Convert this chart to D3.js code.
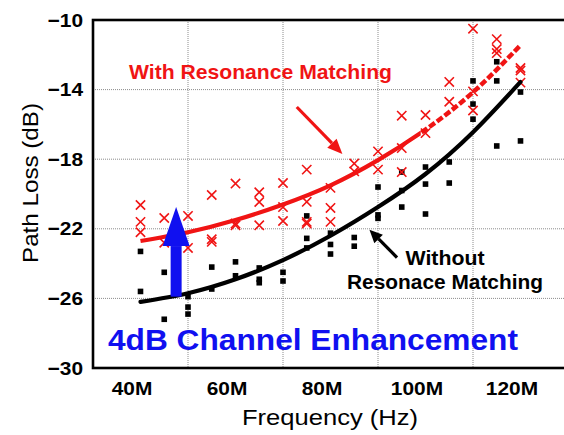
<!DOCTYPE html>
<html>
<head>
<meta charset="utf-8">
<script src="https://cdn.jsdelivr.net/npm/d3@7"></script>
<style>
  body { margin: 0; background: #fff; }
  svg { display: block; font-family: "Liberation Sans", Arial, sans-serif; }
</style>
</head>
<body>
<script>
// measured points, frequency in MHz, loss in dB
var withFreq = [40, 40, 40, 45, 45, 50, 50, 55, 55, 55, 60, 60, 60, 65, 65, 65,
  70, 70, 70, 75, 75, 75, 75, 80, 80, 80, 85, 85, 90, 90, 95, 95, 95,
  100, 100, 105, 105, 110, 110, 110, 115, 115, 115, 120, 120, 120];
var withLoss = [-20.63, -21.6, -22.2, -21.38, -22.8, -21.26, -23.1, -20.06, -22.6, -22.75,
  -19.4, -21.7, -21.8, -19.9, -20.46, -21.8, -19.37, -20.75, -21.55,
  -18.6, -20.45, -21.6, -21.7, -19.65, -20.8, -21.6, -18.25, -18.7, -17.55, -18.6,
  -15.5, -17.36, -18.74, -15.46, -16.5, -13.56, -14.7, -10.5, -14.1, -15.2,
  -11.1, -11.67, -11.9, -12.76, -12.9, -13.6];

var withoutFreq = [40, 40, 45, 45, 50, 50, 50, 55, 55, 60, 60, 65, 65, 65, 70, 70,
  75, 75, 75, 80, 80, 80, 85, 85, 90, 90, 90, 95, 95, 95, 100, 100, 100,
  105, 105, 110, 110, 110, 115, 115, 115, 120, 120];
var withoutLoss = [-23.3, -25.6, -24.5, -27.2, -25.9, -26.5, -26.9, -24.2, -25.46,
  -23.9, -24.7, -24.25, -24.9, -25.1, -24.5, -25.0, -21.26, -22.55, -23.1,
  -22.25, -22.9, -23.45, -22.5, -23.0, -19.6, -21.2, -21.4, -18.74, -19.8, -20.75,
  -18.45, -19.43, -21.15, -18.16, -19.37, -13.5, -14.83, -15.7, -12.4, -13.5, -17.24,
  -14.14, -16.95];

// fitted trend lines
var fitFreq = [40, 50, 60, 70, 80, 90, 100, 110, 120];
var fitWith = [-22.7, -22.2, -21.5, -20.6, -19.5, -18.05, -16.3, -14.15, -11.45];
var fitWithout = [-26.2, -25.7, -24.9, -23.8, -22.4, -20.75, -18.85, -16.45, -13.56];

var xTicks = [40, 60, 80, 100, 120];
var yTicks = [-30, -26, -22, -18, -14, -10];
var xGrid = [50, 70, 90, 110];
var yGrid = [-26, -22, -18, -14];

var width = 564,
  height = 435;

// plot box (window.top is reserved, so prefixed names)
var pLeft = 93, pTop = 20, pRight = 568, pBottom = 368;

var x = d3.scaleLinear().domain([30, 130]).range([pLeft, pRight]);
var y = d3.scaleLinear().domain([-30, -10]).range([pBottom, pTop]);

var svg = d3
  .select("body")
  .append("svg")
  .attr("width", width)
  .attr("height", height);

var defs = svg.append("defs");

// grid
svg.append("g").selectAll("line").data(xGrid).join("line")
  .attr("x1", d => x(d)).attr("x2", d => x(d))
  .attr("y1", pTop).attr("y2", pBottom)
  .attr("stroke", "#8c8c8c").attr("stroke-width", 1)
  .attr("stroke-dasharray", "1,1");
svg.append("g").selectAll("line").data(yGrid).join("line")
  .attr("x1", pLeft).attr("x2", pRight)
  .attr("y1", d => y(d)).attr("y2", d => y(d))
  .attr("stroke", "#8c8c8c").attr("stroke-width", 1)
  .attr("stroke-dasharray", "1,1");

// axes (labels only)
var xAxis = svg.append("g")
  .attr("transform", "translate(0," + pBottom + ")")
  .call(d3.axisBottom(x).tickValues(xTicks).tickSize(0).tickPadding(14)
    .tickFormat(d => d + "M"));
xAxis.select(".domain").remove();
xAxis.selectAll("text").attr("dx", -9);

var yAxis = svg.append("g")
  .attr("transform", "translate(" + pLeft + ",0)")
  .call(d3.axisLeft(y).tickValues(yTicks).tickSize(0).tickPadding(10)
    .tickFormat(d3.format("d")));
yAxis.select(".domain").remove();

svg.selectAll(".tick text")
  .attr("font-family", "'Liberation Sans', Arial, sans-serif")
  .attr("font-size", 19).attr("font-weight", "bold").attr("fill", "#000");

// markers
var pw = d3.zip(withFreq, withLoss);
var pb = d3.zip(withoutFreq, withoutLoss);

svg.append("g").selectAll("rect").data(pb).join("rect")
  .attr("x", d => x(d[0]) - 2.8).attr("y", d => y(d[1]) - 2.8)
  .attr("width", 5.6).attr("height", 5.6).attr("fill", "#000");

var cross = d3.symbol().type(d3.symbolTimes).size(58);
svg.append("g").selectAll("path").data(pw).join("path")
  .attr("transform", d => "translate(" + x(d[0]) + "," + y(d[1]) + ")")
  .attr("d", cross).attr("fill", "none")
  .attr("stroke", "#f01414").attr("stroke-width", 1.6);

// fit curves
var line = d3.line().x(d => x(d[0])).y(d => y(d[1])).curve(d3.curveNatural);

svg.append("path").datum(d3.zip(fitFreq, fitWithout))
  .attr("d", line).attr("fill", "none")
  .attr("stroke", "#000").attr("stroke-width", 4.2).attr("stroke-linecap", "round");

defs.append("clipPath").attr("id", "lo").append("rect")
  .attr("x", 0).attr("y", 0).attr("width", x(99)).attr("height", height);
defs.append("clipPath").attr("id", "hi").append("rect")
  .attr("x", x(99)).attr("y", 0).attr("width", width).attr("height", height);

var redFit = d3.zip(fitFreq, fitWith);
svg.append("path").datum(redFit).attr("clip-path", "url(#lo)")
  .attr("d", line).attr("fill", "none")
  .attr("stroke", "#f01414").attr("stroke-width", 4.2);
svg.append("path").datum(redFit).attr("clip-path", "url(#hi)")
  .attr("d", line).attr("fill", "none")
  .attr("stroke", "#f01414").attr("stroke-width", 4.5)
  .attr("stroke-dasharray", "7,2.5");

// arrows, ends in data units
function arrow(f1, l1, f2, l2, w, headLen, headW, color) {
  var x1 = x(f1), y1 = y(l1), x2 = x(f2), y2 = y(l2);
  var a = Math.atan2(y2 - y1, x2 - x1);
  var c = Math.cos(a), s = Math.sin(a);
  var bx = x2 - c * headLen, by = y2 - s * headLen;
  svg.append("line").attr("x1", x1).attr("y1", y1).attr("x2", bx).attr("y2", by)
    .attr("stroke", color).attr("stroke-width", w);
  svg.append("polygon")
    .attr("points", [[x2, y2], [bx - s * headW / 2, by + c * headW / 2],
      [bx + s * headW / 2, by - c * headW / 2]].map(p => p.join(",")).join(" "))
    .attr("fill", color);
}
arrow(72.9, -15.0, 82.5, -17.7, 3.2, 15, 13, "#f01414");
arrow(94.0, -23.65, 88.2, -22.05, 3.2, 13, 12, "#000");
arrow(47.5, -25.9, 47.5, -20.75, 11, 39, 27, "#1010f0");

// frame
svg.append("rect").attr("x", pLeft).attr("y", pTop)
  .attr("width", pRight - pLeft).attr("height", pBottom - pTop)
  .attr("fill", "none").attr("stroke", "#000").attr("stroke-width", 2.6);

// annotations
function label(t, px, py, size, color, len, anchor) {
  return svg.append("text").attr("x", px).attr("y", py)
    .attr("font-size", size).attr("font-weight", "bold").attr("fill", color)
    .attr("text-anchor", anchor || "start")
    .attr("textLength", len).attr("lengthAdjust", "spacingAndGlyphs")
    .text(t);
}
label("With Resonance Matching", 129, 79, 21, "#f01414", 263);
label("Without", 445, 265, 20.5, "#000", 79, "middle");
label("Resonace Matching", 347, 289, 20.5, "#000", 196);
label("4dB Channel Enhancement", 108, 350, 29, "#1010f0", 410);

svg.append("text").attr("x", 330).attr("y", 425)
  .attr("text-anchor", "middle").attr("font-size", 22)
  .attr("textLength", 176).attr("lengthAdjust", "spacingAndGlyphs")
  .text("Frequency (Hz)");
svg.append("text")
  .attr("transform", "translate(38,183) rotate(-90)")
  .attr("text-anchor", "middle").attr("font-size", 22)
  .attr("textLength", 160).attr("lengthAdjust", "spacingAndGlyphs")
  .text("Path Loss (dB)");

// widen tick labels a little, like the source
svg.selectAll(".tick text").each(function() {
  var n = this.getComputedTextLength();
  d3.select(this).attr("textLength", n * 1.1).attr("lengthAdjust", "spacingAndGlyphs");
});
</script>
</body>
</html>
